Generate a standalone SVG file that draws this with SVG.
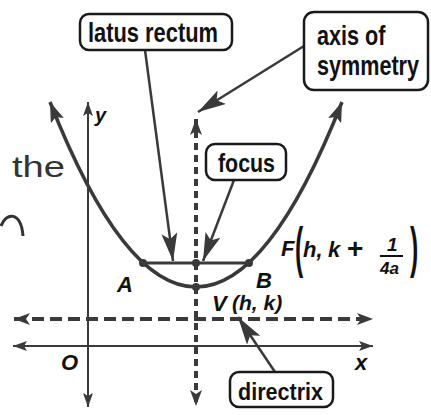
<svg xmlns="http://www.w3.org/2000/svg" width="431" height="415" viewBox="0 0 431 415">
<style>
.box{fill:#fff;stroke:#1a1a1a;stroke-width:2.5}
.lbl{font-family:"Liberation Sans",Arial,sans-serif;font-weight:bold;fill:#111}
.it{font-family:"Liberation Sans",Arial,sans-serif;font-weight:bold;font-style:italic;fill:#111}
.par{font-family:"Liberation Sans",Arial,sans-serif;font-weight:bold;fill:#111}
.ax{stroke:#3a3a3a;stroke-width:2;fill:none}
.con{stroke:#3a3a3a;stroke-width:2.5;fill:none;marker-end:url(#big)}
.dash{stroke:#3a3a3a;stroke-width:4;fill:none}
</style>
<defs>
<marker id="sm" viewBox="0 0 14 10" refX="14" refY="5" markerWidth="14" markerHeight="10" markerUnits="userSpaceOnUse" orient="auto-start-reverse"><path d="M0,0 L14,5 L0,10 L3,5 z" fill="#3a3a3a"/></marker>
<marker id="pa" viewBox="0 0 20 14" refX="20" refY="7" markerWidth="20" markerHeight="14" markerUnits="userSpaceOnUse" orient="auto-start-reverse"><path d="M0,0 L20,7 L0,14 L4,7 z" fill="#3a3a3a"/></marker>
<marker id="big" viewBox="0 0 28 16" refX="28" refY="8" markerWidth="28" markerHeight="16" markerUnits="userSpaceOnUse" orient="auto"><path d="M0,0 L28,8 L0,16 L6,8 z" fill="#3a3a3a"/></marker>
<marker id="da" viewBox="0 0 16 12" refX="16" refY="6" markerWidth="16" markerHeight="12" markerUnits="userSpaceOnUse" orient="auto-start-reverse"><path d="M0,0 L16,6 L0,12 L4,6 z" fill="#3a3a3a"/></marker>
</defs>

<g id="axes">
<line class="ax" x1="88" y1="407" x2="88" y2="102" marker-start="url(#sm)" marker-end="url(#sm)"/>
<line class="ax" x1="13" y1="346" x2="373" y2="346" marker-start="url(#sm)" marker-end="url(#sm)"/>
<text class="it" x="95" y="122" font-size="20">y</text>
<text class="it" x="61" y="370" font-size="22">O</text>
<text class="it" x="355" y="370" font-size="22">x</text>
</g>

<g id="directrix-line">
<line class="dash" x1="14" y1="319" x2="373" y2="319" stroke-dasharray="12 6" marker-start="url(#da)" marker-end="url(#da)"/>
</g>

<g id="axis-line">
<line class="dash" x1="196" y1="119" x2="196" y2="406" stroke-dasharray="7 5" marker-start="url(#da)" marker-end="url(#da)"/>
</g>

<g id="parabola">
<path d="M50,102 Q196,472 342,102" stroke="#3a3a3a" stroke-width="3.5" fill="none" marker-start="url(#pa)" marker-end="url(#pa)"/>
<line x1="143" y1="263" x2="249" y2="263" stroke="#3a3a3a" stroke-width="3"/>
<circle cx="143" cy="263" r="4" fill="#3a3a3a"/>
<circle cx="196" cy="263" r="4" fill="#3a3a3a"/>
<circle cx="249" cy="263" r="4" fill="#3a3a3a"/>
<circle cx="196" cy="287" r="4" fill="#3a3a3a"/>
<text class="it" x="117" y="292" font-size="22">A</text>
<text class="it" x="256" y="288" font-size="22">B</text>
<text class="it" x="212" y="311" font-size="22">V</text>
<text class="it" x="232" y="310" font-size="21">(h, k)</text>
</g>

<g id="focus-label">
<text class="it" x="281" y="256" font-size="22">F</text>
<text class="par" transform="translate(295,266) scale(0.45,1)" font-size="55">(</text>
<text class="it" x="303" y="257" font-size="22">h,</text>
<text class="it" x="328" y="257" font-size="22">k</text>
<text class="lbl" x="347" y="258" font-size="28">+</text>
<text class="it" x="387" y="251" font-size="19">1</text>
<line x1="380" y1="256" x2="403" y2="256" stroke="#111" stroke-width="2"/>
<text class="it" x="380" y="274" font-size="17">4a</text>
<text class="par" transform="translate(410,266) scale(0.45,1)" font-size="55">)</text>
</g>

<g id="connectors">
<line class="con" x1="145" y1="50" x2="173" y2="261"/>
<line class="con" x1="304" y1="46" x2="198" y2="112"/>
<line class="con" x1="234" y1="180" x2="203" y2="261"/>
<line class="con" x1="275" y1="372" x2="238" y2="317"/>
</g>

<g id="latus-rectum">
<rect class="box" x="80" y="14" width="152" height="36" rx="9"/>
<text class="lbl" x="88" y="42" font-size="28" textLength="130" lengthAdjust="spacingAndGlyphs">latus rectum</text>
</g>

<g id="axis-of-symmetry">
<rect class="box" x="304" y="12" width="124" height="78" rx="10"/>
<text class="lbl" transform="translate(317,45) scale(0.8,1)" font-size="27">axis of</text>
<text class="lbl" transform="translate(317,75) scale(0.8,1)" font-size="27">symmetry</text>
</g>

<g id="focus">
<rect class="box" x="206" y="144" width="80" height="36" rx="9"/>
<text class="lbl" x="218" y="172" font-size="26" textLength="57" lengthAdjust="spacingAndGlyphs">focus</text>
</g>

<g id="directrix">
<rect class="box" x="230" y="372" width="103" height="35" rx="9"/>
<text class="lbl" x="238" y="400" font-size="24" textLength="85" lengthAdjust="spacingAndGlyphs">directrix</text>
</g>

<g id="handwriting">
<text x="12" y="177" font-family="Liberation Sans, Arial, sans-serif" font-size="30" fill="#333" textLength="53" lengthAdjust="spacingAndGlyphs">the</text>
<path d="M1,226 C6,212 21,211 23,236" stroke="#333" stroke-width="3" fill="none"/>
</g>
</svg>
